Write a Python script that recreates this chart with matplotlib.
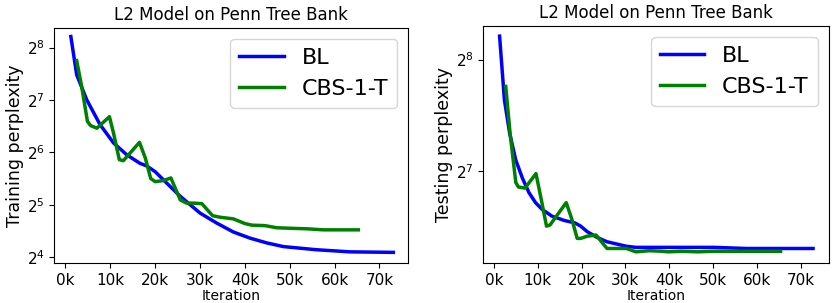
import numpy as np
import matplotlib
matplotlib.use('Agg')
import matplotlib.pyplot as plt
from matplotlib.ticker import FuncFormatter

train_bl_k = [1.2, 2.5, 4.75, 7.7, 10.7, 13.7, 16.6, 18.1, 20.0, 22.6, 25.6, 30.0, 33.7,
              37.4, 41.2, 44.9, 48.6, 52.3, 56.0, 59.7, 63.4, 73.1]
train_bl_log2 = [8.21, 7.48, 7.0, 6.53, 6.18, 5.95, 5.79, 5.74, 5.63, 5.41, 5.16, 4.84, 4.65,
                 4.48, 4.36, 4.27, 4.20, 4.17, 4.14, 4.12, 4.10, 4.09]

train_cbs_k = [2.5, 3.6, 4.9, 5.6, 7.0, 9.8, 10.7, 12.0, 12.9, 16.5, 17.8, 19.0, 20.0, 21.8,
               23.5, 25.6, 27.0, 28.5, 30.4, 32.8, 34.5, 37.4, 40.0, 41.5, 44.5, 47.1, 50.1,
               53.8, 57.5, 65.3]
train_cbs_log2 = [7.75, 7.26, 6.59, 6.51, 6.46, 6.68, 6.37, 5.86, 5.84, 6.19, 5.89, 5.50, 5.44,
                  5.46, 5.51, 5.09, 5.03, 5.03, 5.02, 4.79, 4.76, 4.73, 4.64, 4.61, 4.60, 4.56,
                  4.55, 4.54, 4.52, 4.52]

test_bl_k = [1.3, 2.4, 3.6, 5.0, 6.5, 8.0, 9.5, 11.0, 13.2, 16.1, 18.4, 19.8, 21.3, 23.5,
             25.8, 28.0, 30.2, 32.4, 36.9, 42.8, 50.2, 57.6, 72.8]
test_bl_log2 = [8.21, 7.64, 7.34, 7.10, 6.94, 6.81, 6.72, 6.66, 6.60, 6.56, 6.54, 6.51, 6.46,
                6.41, 6.37, 6.35, 6.33, 6.32, 6.32, 6.32, 6.32, 6.31, 6.31]

test_cbs_k = [2.7, 3.7, 5.0, 5.6, 7.1, 9.6, 10.8, 12.0, 12.8, 16.5, 17.8, 19.0, 19.8, 21.3,
              23.3, 25.8, 27.2, 30.2, 32.4, 35.4, 38.3, 39.8, 42.8, 46.5, 50.2, 57.6, 65.4]
test_cbs_log2 = [7.76, 7.34, 6.90, 6.86, 6.85, 6.98, 6.75, 6.51, 6.52, 6.72, 6.57, 6.40, 6.40,
                 6.42, 6.43, 6.31, 6.31, 6.31, 6.28, 6.29, 6.285, 6.28, 6.285, 6.28, 6.285,
                 6.285, 6.285]


def draw(ax, bl_k, bl_log2, cbs_k, cbs_log2, ylabel, ylim):
    ax.plot(bl_k, 2 ** np.array(bl_log2), color='blue', lw=2.5, label='BL')
    ax.plot(cbs_k, 2 ** np.array(cbs_log2), color='green', lw=2.5, label='CBS-1-T')
    ax.set_yscale('log', base=2)
    ax.set_ylim(2 ** ylim[0], 2 ** ylim[1])
    ax.set_xlim(-2.45, 76.4)
    ax.set_xticks(np.arange(0, 71, 10))
    ax.xaxis.set_major_formatter(FuncFormatter(lambda v, p: '%dk' % v))
    ax.tick_params(labelsize=11)
    ax.set_title('L2 Model on Penn Tree Bank', fontsize=12)
    ax.set_xlabel('Iteration', fontsize=10, labelpad=1)
    ax.set_ylabel(ylabel, fontsize=12.5, labelpad=2)
    ax.legend(fontsize=16, loc='upper right')


fig = plt.figure(figsize=(8.33, 3.03), dpi=100)
ax1 = fig.add_axes([0.0654, 0.132, 0.4246, 0.776])
ax2 = fig.add_axes([0.580, 0.132, 0.415, 0.782])

draw(ax1, train_bl_k, train_bl_log2, train_cbs_k, train_cbs_log2, 'Training perplexity', (3.887, 8.375))
draw(ax2, test_bl_k, test_bl_log2, test_cbs_k, test_cbs_log2, 'Testing perplexity', (6.18, 8.30))

fig.savefig('out.png', dpi=100)
